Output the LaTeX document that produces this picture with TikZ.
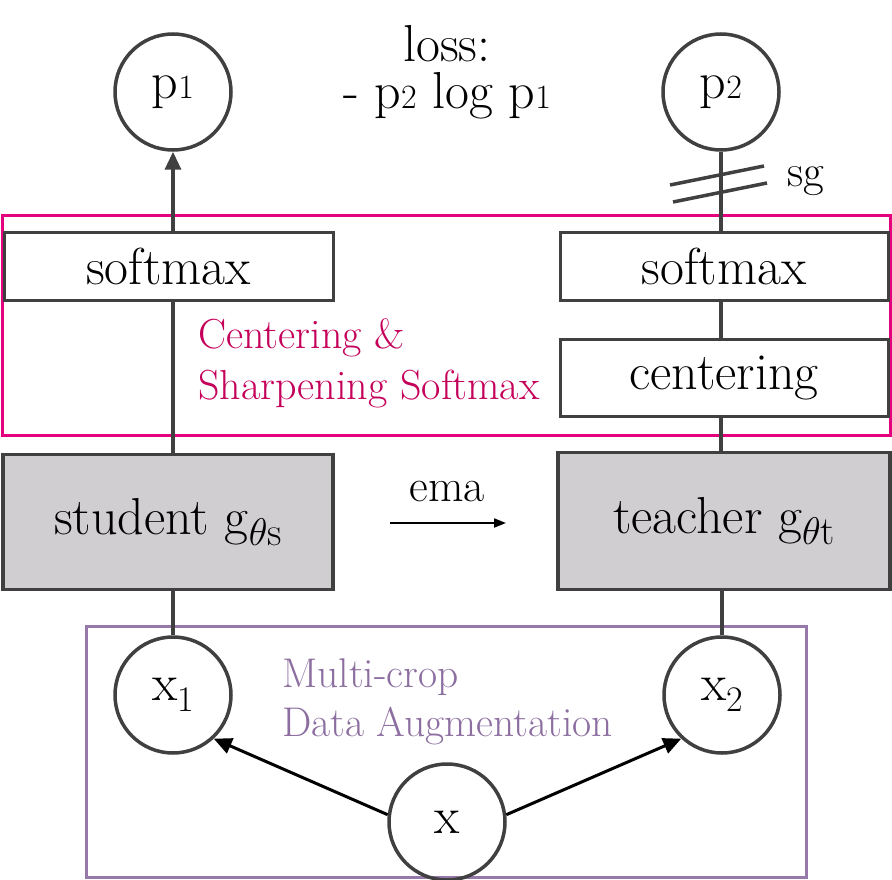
\documentclass[tikz,border=0pt]{standalone}
\usepackage{graphicx}
\usetikzlibrary{arrows.meta}
\definecolor{dgray}{RGB}{64,64,64}
\definecolor{boxgray}{RGB}{208,206,208}
\definecolor{magb}{RGB}{229,0,125}
\definecolor{magt}{RGB}{196,0,90}
\definecolor{purb}{RGB}{150,120,170}
\definecolor{purt}{RGB}{140,110,160}
\newcommand{\smallsub}[1]{{\fontsize{34}{34}\selectfont #1}}
\newcommand{\lowsub}[1]{\raisebox{-0.22em}{\fontsize{36}{36}\selectfont #1}}
\newcommand{\gsub}[1]{\raisebox{-0.2em}{\fontsize{40}{40}\selectfont #1}}
\newcommand{\bigtheta}{\scalebox{1.55}{$\theta$}}
\begin{document}
\begin{tikzpicture}[x=1pt,y=-1pt,
  big/.style={font=\fontsize{52}{60}\selectfont},
  circ/.style={circle,draw=dgray,line width=3.5pt,minimum size=116pt,inner sep=0pt,big},
  wbox/.style={rectangle,draw=dgray,line width=3pt,fill=white,inner sep=0pt,big},
  gbox/.style={rectangle,draw=dgray,line width=3.5pt,fill=boxgray,inner sep=0pt,big},
  conn/.style={draw=dgray,line width=3.5pt},
  arr/.style={draw=black,line width=3pt,-{Triangle[length=18pt,width=16pt]}},
]
\useasboundingbox (0,0) rectangle (892,880);

% group frames
\draw[magb,line width=3pt] (2,215) rectangle (890,435);
\draw[purb,line width=3pt] (86,626) rectangle (806,877);

% nodes
\node[circ] (p1) at (173,92) {p\smallsub{1}};
\node[circ] (p2) at (721,92) {p\smallsub{2}};
\node[big,anchor=center] (loss1) at (447,44) {loss:};
\node[big,anchor=center] (loss2) at (447,96) {- p\smallsub{2} log p\smallsub{1}};

\node[wbox,minimum width=329pt,minimum height=68pt] (smL) at (168.5,266) {softmax};
\node[wbox,minimum width=328pt,minimum height=68pt] (smR) at (724,266) {softmax};
\node[wbox,minimum width=328pt,minimum height=77pt] (cen) at (724,378) {centering};

\node[gbox,minimum width=330pt,minimum height=135pt] (stu) at (168,522) {student g\gsub{\bigtheta s}};
\node[gbox,minimum width=332pt,minimum height=137pt] (tea) at (724,521) {teacher g\gsub{\bigtheta t}};

\node[font=\fontsize{46}{52}\selectfont] (ema) at (447,492) {ema};
\coordinate (emaL) at (390,523);
\coordinate (emaR) at (506,523);

\node[circ] (x1) at (173,695) {x\lowsub{1}};
\node[circ] (x2) at (722,695) {x\lowsub{2}};
\node[circ] (x) at (447,822) {x};

\node[font=\fontsize{42}{51}\selectfont,text=magt,align=left,anchor=west,inner sep=0pt] (clab) at (198,363) {Centering \&\\Sharpening Softmax};
\node[font=\fontsize{41.5}{49}\selectfont,text=purt,align=left,anchor=west,inner sep=0pt] (mlab) at (282,702) {Multi-crop\\Data Augmentation};

\node[font=\fontsize{45}{50}\selectfont,anchor=center] (sg) at (806,181) {sg};

% connectors
\draw[conn,-{Triangle[length=18pt,width=16pt]}] (smL.north -| p1) -- (p1);
\draw[conn] (smL.south -| p1) -- (stu.north -| p1);
\draw[conn] (stu.south -| x1) -- (x1);

\draw[conn] (p2) -- (smR.north -| p2);
\draw[conn] (smR.south -| p2) -- (cen.north -| p2);
\draw[conn] (cen.south -| p2) -- (tea.north -| p2);
\draw[conn] (tea.south -| x2) -- (x2);

% stop-gradient slashes
\draw[conn] (670,185) -- (764,166);
\draw[conn] (673,202) -- (767,183);

\draw[black,line width=1.8pt,-{Triangle[length=12pt,width=9pt]}] (emaL) -- (emaR);

\draw[arr] (x.173) -- (x1.-47);
\draw[arr] (x.7) -- (x2.-133);
\end{tikzpicture}
\end{document}
